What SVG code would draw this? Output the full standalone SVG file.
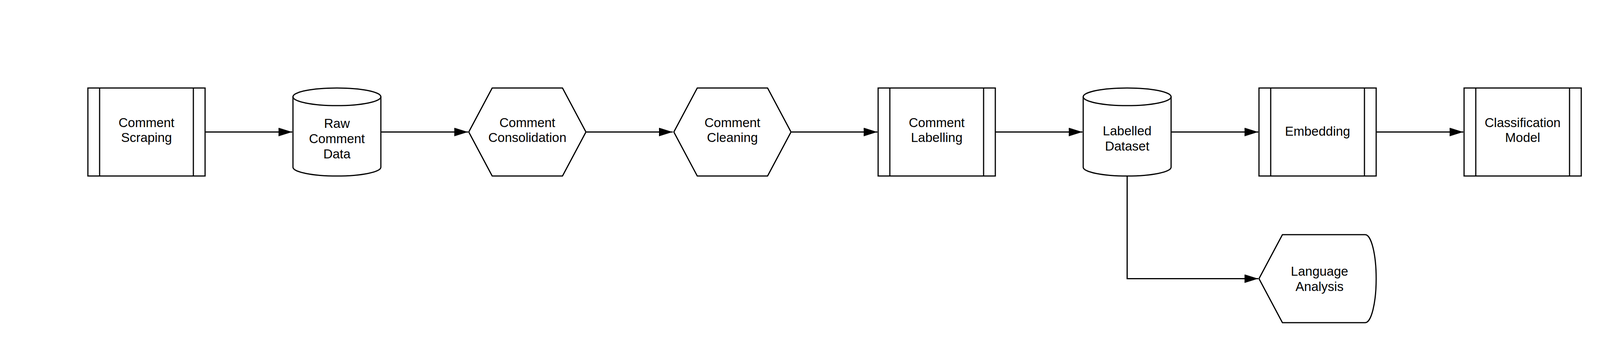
<svg xmlns="http://www.w3.org/2000/svg" width="4123" height="900" viewBox="0 0 4123 900">
<style>
.s{fill:#fff;stroke:#000;stroke-width:3;stroke-linejoin:miter}
.l{fill:none;stroke:#000;stroke-width:3}
.t{font-family:"Liberation Sans",Arial,sans-serif;font-size:33px;fill:#000;text-anchor:middle}
.c{fill:none;stroke:#000;stroke-width:3}
</style>
<defs>
<marker id="ah" markerUnits="userSpaceOnUse" markerWidth="36" markerHeight="24" refX="35" refY="11" orient="auto">
<path d="M0,0 L35,11 L0,22 Z" fill="#000"/>
</marker>
</defs>
<rect x="0" y="0" width="4123" height="900" fill="#fff"/>
<g id="connectors">
<line class="c" x1="525" y1="337.5" x2="748" y2="337.5" marker-end="url(#ah)"/>
<line class="c" x1="975" y1="337.5" x2="1198" y2="337.5" marker-end="url(#ah)"/>
<line class="c" x1="1500" y1="337.5" x2="1722" y2="337.5" marker-end="url(#ah)"/>
<line class="c" x1="2025" y1="337.5" x2="2246" y2="337.5" marker-end="url(#ah)"/>
<line class="c" x1="2548" y1="337.5" x2="2771" y2="337.5" marker-end="url(#ah)"/>
<line class="c" x1="2998" y1="337.5" x2="3221" y2="337.5" marker-end="url(#ah)"/>
<line class="c" x1="3523" y1="337.5" x2="3746" y2="337.5" marker-end="url(#ah)"/>
<path class="c" d="M2885.5,450 V712.5 H3221" marker-end="url(#ah)"/>
</g>
<g id="comment-scraping">
<rect class="s" x="225" y="225" width="300" height="225"/>
<line class="l" x1="255" y1="225" x2="255" y2="450"/>
<line class="l" x1="495" y1="225" x2="495" y2="450"/>
<text class="t" x="375" y="325">Comment</text>
<text class="t" x="375" y="363">Scraping</text>
</g>
<g id="raw-comment-data">
<path class="s" d="M750,247.5 A112.5,22.5 0 0 1 975,247.5 L975,427.5 A112.5,22.5 0 0 1 750,427.5 Z"/>
<path class="l" d="M750,247.5 A112.5,22.5 0 0 0 975,247.5"/>
<text class="t" x="862.5" y="327">Raw</text>
<text class="t" x="862.5" y="366">Comment</text>
<text class="t" x="862.5" y="405">Data</text>
</g>
<g id="comment-consolidation">
<polygon class="s" points="1200,337.5 1260,225 1440,225 1500,337.5 1440,450 1260,450"/>
<text class="t" x="1350" y="325">Comment</text>
<text class="t" x="1350" y="363">Consolidation</text>
</g>
<g id="comment-cleaning">
<polygon class="s" points="1725,337.5 1785,225 1965,225 2025,337.5 1965,450 1785,450"/>
<text class="t" x="1875" y="325">Comment</text>
<text class="t" x="1875" y="363">Cleaning</text>
</g>
<g id="comment-labelling">
<rect class="s" x="2248" y="225" width="300" height="225"/>
<line class="l" x1="2278" y1="225" x2="2278" y2="450"/>
<line class="l" x1="2518" y1="225" x2="2518" y2="450"/>
<text class="t" x="2398" y="325">Comment</text>
<text class="t" x="2398" y="363">Labelling</text>
</g>
<g id="labelled-dataset">
<path class="s" d="M2773,247.5 A112.5,22.5 0 0 1 2998,247.5 L2998,427.5 A112.5,22.5 0 0 1 2773,427.5 Z"/>
<path class="l" d="M2773,247.5 A112.5,22.5 0 0 0 2998,247.5"/>
<text class="t" x="2885.5" y="346">Labelled</text>
<text class="t" x="2885.5" y="385">Dataset</text>
</g>
<g id="embedding">
<rect class="s" x="3223" y="225" width="300" height="225"/>
<line class="l" x1="3253" y1="225" x2="3253" y2="450"/>
<line class="l" x1="3493" y1="225" x2="3493" y2="450"/>
<text class="t" x="3373" y="347">Embedding</text>
</g>
<g id="classification-model">
<rect class="s" x="3748" y="225" width="300" height="225"/>
<line class="l" x1="3778" y1="225" x2="3778" y2="450"/>
<line class="l" x1="4018" y1="225" x2="4018" y2="450"/>
<text class="t" x="3898" y="325">Classification</text>
<text class="t" x="3898" y="363">Model</text>
</g>
<g id="language-analysis">
<path class="s" d="M3223,712.5 L3283,600 L3495,600 A28,112.5 0 0 1 3495,825 L3283,825 Z"/>
<text class="t" x="3378" y="705">Language</text>
<text class="t" x="3378" y="744">Analysis</text>
</g>
</svg>
